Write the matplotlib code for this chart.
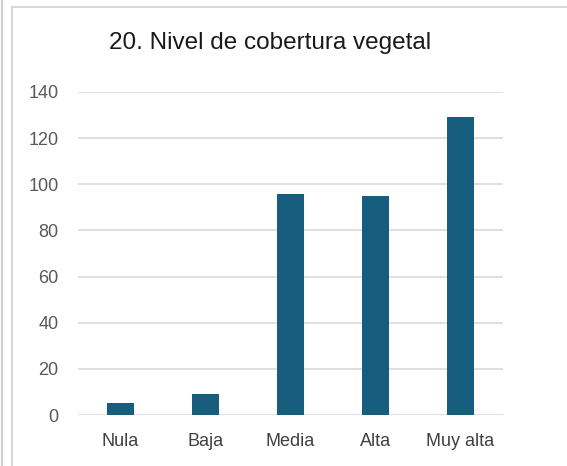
import matplotlib.pyplot as plt
from matplotlib.lines import Line2D

categories = ['Nula', 'Baja', 'Media', 'Alta', 'Muy alta']
values = [5, 9, 96, 95, 129]
yticks = [0, 20, 40, 60, 80, 100, 120, 140]

plt.rcParams['font.family'] = ['Liberation Sans', 'DejaVu Sans']

W, H = 567, 466
fig = plt.figure(figsize=(W / 100, H / 100), dpi=100)
ax = fig.add_axes([78 / W, 1 - 415 / H, 425 / W, 323 / H])

x = range(len(categories))
ax.bar(x, values, width=0.31, color='#175E7E', zorder=3)

ax.set_xlim(-0.5, len(categories) - 0.5)
ax.set_ylim(0, 140)
ax.set_yticks(yticks)
ax.set_xticks(list(x))
ax.set_xticklabels(categories, fontsize=13, color='#404040')
ax.tick_params(axis='y', labelsize=13, labelcolor='#595959', length=0, pad=14)
ax.tick_params(axis='x', length=0, pad=13)
ax.grid(axis='y', color='#D9D9D9', linewidth=1.2, zorder=0)
for s in ax.spines.values():
    s.set_visible(False)

fig.text(270 / W, 1 - 43 / H, '20. Nivel de cobertura vegetal',
         ha='center', va='center', fontsize=17.5, color='#1a1a1a')

# chart frame and outer edge
fig.add_artist(Line2D([12 / W, 12 / W], [0, 1 - 7 / H], color='#D9D9D9', lw=1.5))
fig.add_artist(Line2D([12 / W, 1], [1 - 7 / H, 1 - 7 / H], color='#D9D9D9', lw=1.5))
fig.add_artist(Line2D([2 / W, 2 / W], [0, 1], color='#CFCFCF', lw=1.5))

fig.savefig('out.png', dpi=100)
